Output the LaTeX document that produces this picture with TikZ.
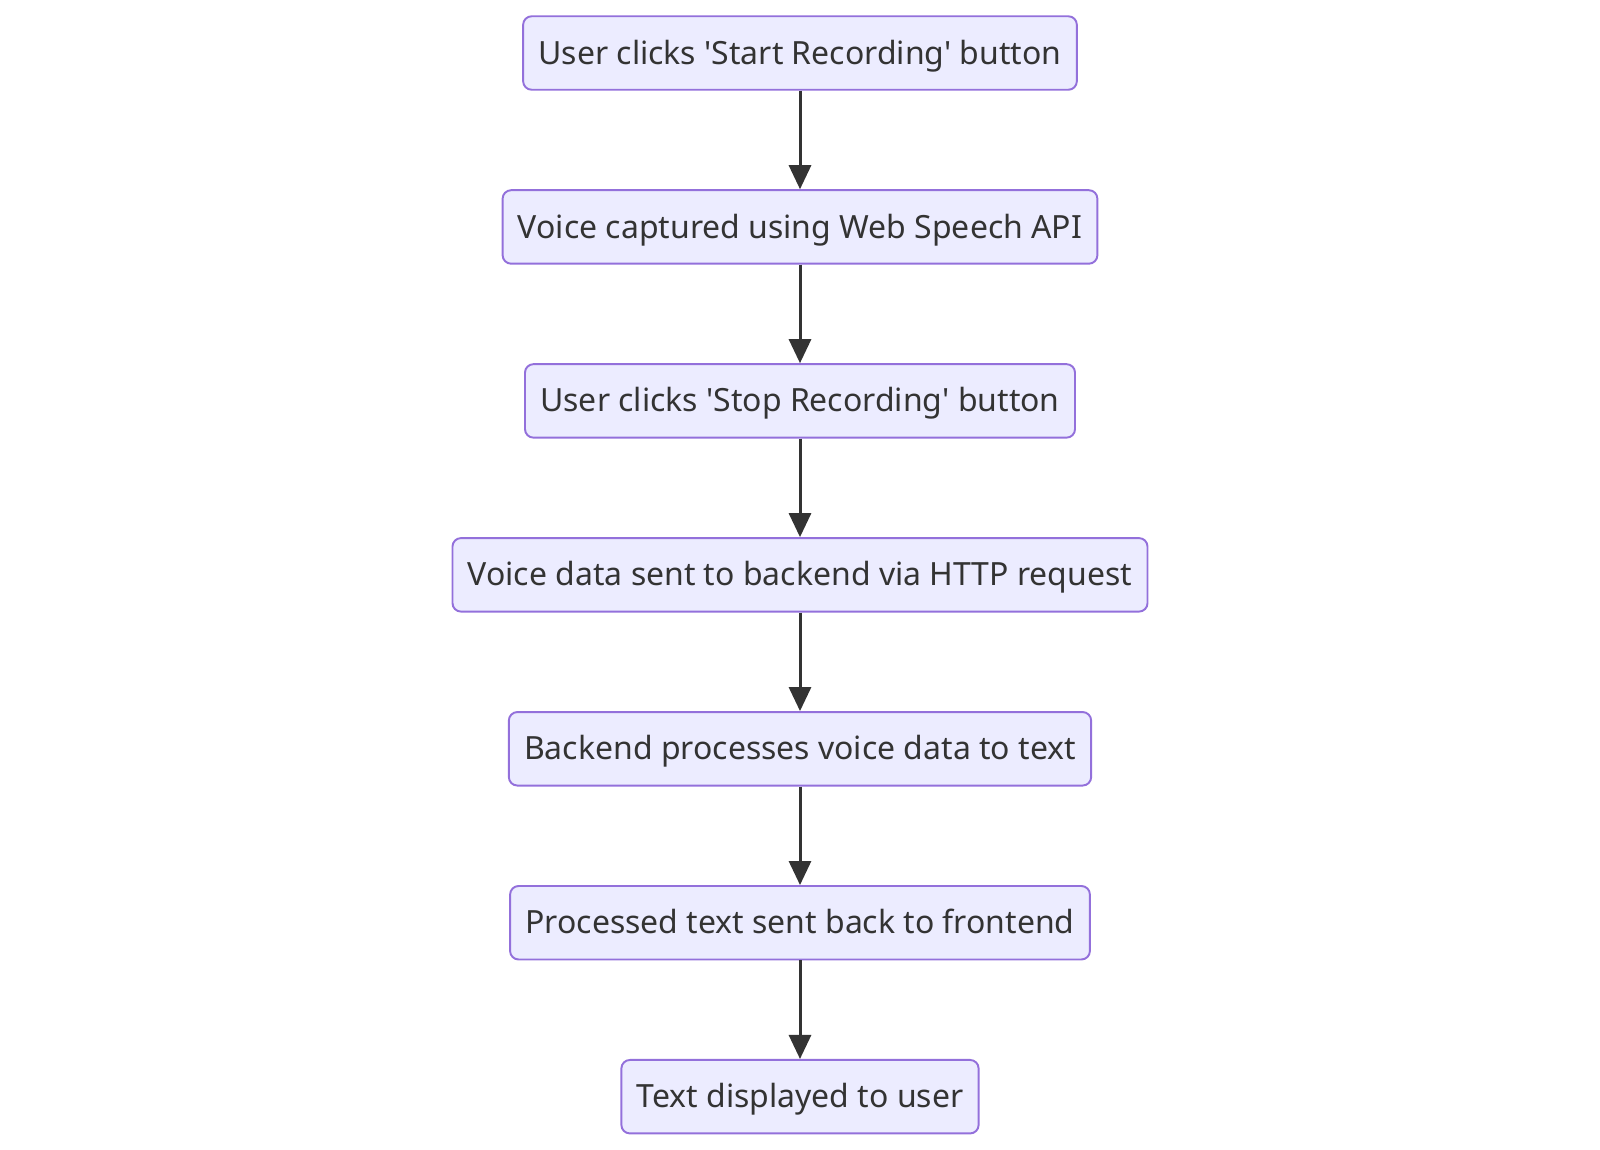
\documentclass[tikz,border=0pt]{standalone}
\usepackage{fontspec}
\setmainfont{Noto Sans}
\usepackage{xcolor}
\usetikzlibrary{arrows.meta,positioning}
\definecolor{flowfill}{HTML}{ECECFF}
\definecolor{flowedge}{HTML}{9370DB}
\definecolor{flowink}{HTML}{333333}
\newcommand{\sq}{\textquotesingle}

\begin{document}
\begin{tikzpicture}[
  x=0.02cm,
  y=-0.02cm,
  node distance=1.971cm,
  every node/.style={font=\fontsize{18.2pt}{22pt}\selectfont, text=flowink},
  stepbox/.style={draw=flowedge, fill=flowfill, line width=1.1pt,
                  rounded corners=0.17cm, inner xsep=0.306cm,
                  text height=17pt, text depth=4.4pt,
                  minimum height=1.47cm},
  flow/.style={flowink, line width=1.7pt,
               -{Triangle[length=0.48cm, width=0.44cm]}}
]
  % ---- page frame ----
  \useasboundingbox (0,0) rectangle (1600,1150);

  % ---- steps ----
  \node[stepbox] (start) at (800,53) {User clicks \sq Start Recording\sq{} button};
  \node[stepbox, below=of start] (capture) {Voice captured using Web Speech API};
  \node[stepbox, below=of capture] (stop) {User clicks \sq Stop Recording\sq{} button};
  \node[stepbox, below=of stop] (send) {Voice data sent to backend via HTTP request};
  \node[stepbox, below=of send] (process) {Backend processes voice data to text};
  \node[stepbox, below=of process] (reply) {Processed text sent back to frontend};
  \node[stepbox, below=of reply] (show) {Text displayed to user};

  % ---- connectors ----
  \foreach \a/\b in {start/capture, capture/stop, stop/send,
                     send/process, process/reply, reply/show}
    \draw[flow] (\a) -- (\b);
\end{tikzpicture}
\end{document}
